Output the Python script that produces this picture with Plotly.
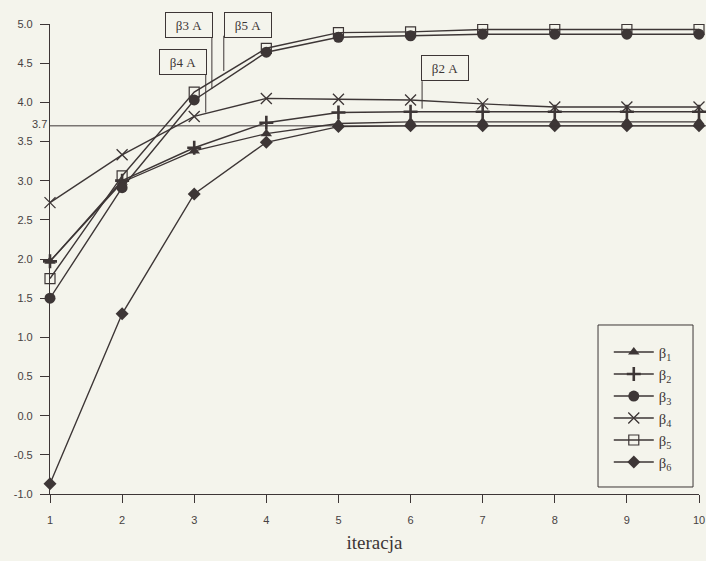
import plotly.graph_objects as go

iterations = [1, 2, 3, 4, 5, 6, 7, 8, 9, 10]
beta1 = [1.97, 2.98, 3.38, 3.60, 3.73, 3.75, 3.75, 3.75, 3.75, 3.75]
beta2 = [1.97, 3.00, 3.42, 3.74, 3.87, 3.88, 3.88, 3.88, 3.88, 3.88]
beta3 = [1.50, 2.91, 4.03, 4.64, 4.83, 4.85, 4.87, 4.87, 4.87, 4.87]
beta4 = [2.72, 3.33, 3.82, 4.05, 4.04, 4.03, 3.98, 3.94, 3.94, 3.94]
beta5 = [1.75, 3.06, 4.13, 4.69, 4.89, 4.90, 4.93, 4.93, 4.93, 4.93]
beta6 = [-0.87, 1.30, 2.83, 3.49, 3.69, 3.70, 3.70, 3.70, 3.70, 3.70]
names = ["β<sub>1</sub>", "β<sub>2</sub>", "β<sub>3</sub>", "β<sub>4</sub>", "β<sub>5</sub>", "β<sub>6</sub>"]
y_ticks = [-1.0, -0.5, 0.0, 0.5, 1.0, 1.5, 2.0, 2.5, 3.0, 3.5, 4.0, 4.5, 5.0]
y_ticktext = ["-1.0", "-0.5", "0.0", "0.5", "1.0", "1.5", "2.0", "2.5", "3.0", "3.5", "4.0", "4.5", "5.0"]
ref_level = 3.7
callouts = ["β3 A", "β5 A", "β4 A", "β2 A"]

INK = "#3d3636"
TICK = "#474242"
BG = "#f4f4ec"

styles = [
    dict(symbol="triangle-up", size=10, color=INK, line=dict(width=0)),
    dict(symbol="cross-thin", size=10, color=INK, line=dict(width=2.6, color=INK)),
    dict(symbol="circle", size=11, color=INK, line=dict(width=0)),
    dict(symbol="x-thin", size=11, color=INK, line=dict(width=1.3, color=INK)),
    dict(symbol="square-open", size=10, color=INK, line=dict(width=1.2, color=INK)),
    dict(symbol="diamond", size=10, color=INK, line=dict(width=0)),
]
series = [beta1, beta2, beta3, beta4, beta5, beta6]

fig = go.Figure()
for nm, ys, st in zip(names, series, styles):
    fig.add_trace(go.Scatter(
        x=iterations, y=ys, name=nm, mode="lines+markers",
        line=dict(color=INK, width=1.4), marker=st, cliponaxis=False,
    ))

fig.update_layout(
    width=706, height=561,
    paper_bgcolor=BG, plot_bgcolor=BG,
    margin=dict(l=50, r=7, t=24, b=67),
    showlegend=True,
    legend=dict(
        x=0.861, y=0.336, xanchor="left", yanchor="top",
        bgcolor="rgba(0,0,0,0)", borderwidth=0,
        font=dict(family="Liberation Serif", size=14.6, color=INK),
        itemwidth=40, tracegroupgap=0,
    ),
    xaxis=dict(
        range=[1, 10], tickvals=iterations, showgrid=False, zeroline=False,
        showline=True, linecolor=INK, linewidth=1.2, automargin=False,
        ticks="outside", ticklen=8, tickcolor=INK, ticklabelstandoff=8,
        tickfont=dict(family="Liberation Sans", size=11, color=TICK),
        title=dict(text="iteracja", font=dict(family="Liberation Serif", size=19, color=INK), standoff=10),
    ),
    yaxis=dict(
        range=[-1, 5], tickvals=y_ticks, ticktext=y_ticktext, showgrid=False, zeroline=False,
        showline=True, linecolor=INK, linewidth=1.2, automargin=False,
        ticks="outside", ticklen=9, tickcolor=INK, ticklabelstandoff=5,
        tickfont=dict(family="Liberation Sans", size=11, color=TICK),
    ),
)

# legend frame
fig.add_shape(type="rect", xref="paper", yref="paper", x0=0.8444, x1=0.9908, y0=0.0149, y1=0.3596,
              line=dict(color=INK, width=1), fillcolor=BG)

# horizontal reference line at 3.7
fig.add_shape(type="line", xref="paper", yref="y", x0=0, x1=1.011, y0=ref_level, y1=ref_level,
              line=dict(color=INK, width=1))
fig.add_annotation(xref="paper", yref="y", x=0, y=ref_level, text="3.7", showarrow=False,
                   xanchor="right", xshift=-1, yshift=2,
                   font=dict(family="Liberation Sans", size=11, color=TICK))

# callout boxes with leader lines
box_pos = [(2.93, 4.99), (3.74, 4.99), (2.85, 4.51), (6.48, 4.44)]
leaders = [(3.245, 4.85, 4.17), (3.41, 4.85, 4.40), (3.16, 4.35, 3.87), (6.16, 4.27, 3.92)]
for txt, (bx, by), (lx, ly0, ly1) in zip(callouts, box_pos, leaders):
    fig.add_shape(type="line", xref="x", yref="y", x0=lx, x1=lx, y0=ly0, y1=ly1,
                  line=dict(color=INK, width=1))
    fig.add_annotation(x=bx, y=by, xref="x", yref="y", text=txt, showarrow=False,
                       bgcolor=BG, bordercolor=INK, borderwidth=1, borderpad=3,
                       width=40, height=18,
                       font=dict(family="Liberation Serif", size=13, color=INK))

fig.write_html("out.html", config={"displayModeBar": False},
               post_script="document.body.style.margin='0';document.body.style.background='#f4f4ec';")
